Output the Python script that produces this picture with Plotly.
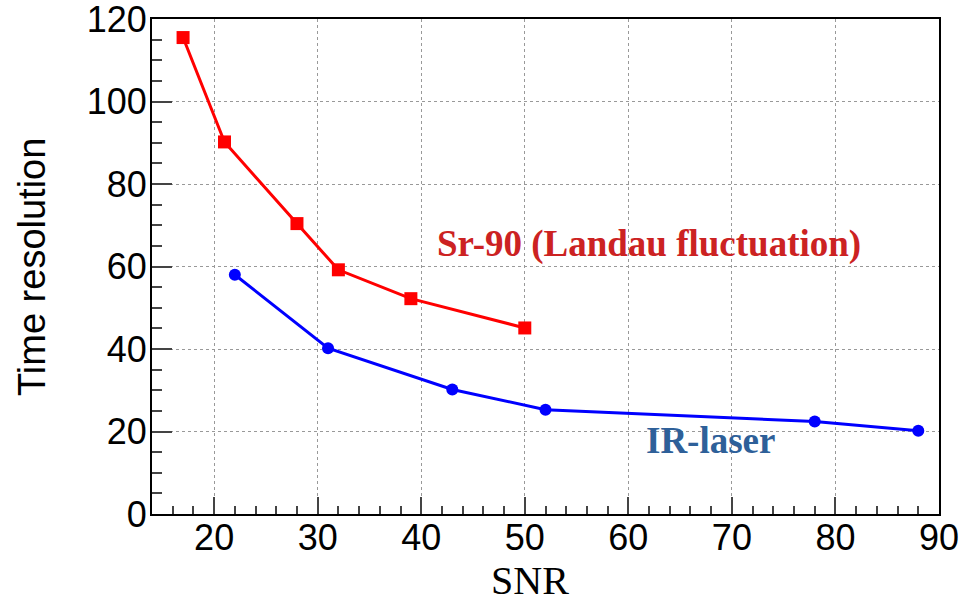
import plotly.graph_objects as go

# SNR scan: Sr-90 source vs. IR laser
sr_snr = [17, 21, 28, 32, 39, 50]
sr_res = [115.5, 90.2, 70.4, 59.2, 52.2, 45.1]

ir_snr = [22, 31, 43, 52, 78, 88]
ir_res = [58.0, 40.2, 30.2, 25.3, 22.4, 20.2]

x_ticks = [20, 30, 40, 50, 60, 70, 80, 90]
y_ticks = [0, 20, 40, 60, 80, 100, 120]

W, H = 975, 600
L, R, T, B = 152, 36, 19, 86

fig = go.Figure()
fig.add_trace(go.Scatter(
    x=sr_snr, y=sr_res, mode="lines+markers",
    line=dict(color="#ff0000", width=3),
    marker=dict(symbol="square", size=13, color="#ff0000"),
    showlegend=False,
))
fig.add_trace(go.Scatter(
    x=ir_snr, y=ir_res, mode="lines+markers",
    line=dict(color="#0000ff", width=3),
    marker=dict(symbol="circle", size=12, color="#0000ff"),
    showlegend=False,
))

axis_common = dict(
    showgrid=True, gridcolor="#999999", griddash="dot", gridwidth=1,
    showline=True, linecolor="black", linewidth=2, mirror=True,
    ticks="inside", tickcolor="#444444", tickwidth=2,
    tickfont=dict(family="Liberation Sans, Arial, sans-serif", size=36, color="black"),
    ticklabeloverflow="allow",
    automargin=False,
    zeroline=False,
)

fig.update_xaxes(
    range=[14, 90], tickvals=x_ticks, ticklen=17,
    minor=dict(dtick=2, ticks="inside", ticklen=8, tickcolor="#444444", tickwidth=2, showgrid=False),
    ticklabelstandoff=-9,
    **axis_common,
)
fig.update_yaxes(
    range=[0, 120], tickvals=y_ticks, ticklen=20,
    minor=dict(dtick=5, ticks="inside", ticklen=10, tickcolor="#444444", tickwidth=2, showgrid=False),
    ticklabelstandoff=-4,
    **axis_common,
)

pw = W - L - R
ph = H - T - B

def px_x(p):
    return (p - L) / pw

def px_y(p):
    return 1 - (p - T) / ph

fig.add_annotation(
    text="Time resolution", textangle=-90,
    xref="paper", yref="paper", x=px_x(32), y=px_y(267),
    xanchor="center", yanchor="middle", showarrow=False,
    font=dict(family="Liberation Sans, Arial, sans-serif", size=38, color="black"),
)
fig.add_annotation(
    text="SNR",
    xref="paper", yref="paper", x=px_x(530), y=px_y(580),
    xanchor="center", yanchor="middle", showarrow=False,
    font=dict(family="Liberation Serif, Times New Roman, serif", size=40, color="black"),
)
fig.add_annotation(
    text="<b>Sr-90 (Landau fluctuation)</b>",
    xref="paper", yref="paper", x=px_x(649), y=px_y(244),
    xanchor="center", yanchor="middle", showarrow=False,
    font=dict(family="Liberation Serif, Times New Roman, serif", size=37, color="#cc2222"),
)
fig.add_annotation(
    text="<b>IR-laser</b>",
    xref="paper", yref="paper", x=px_x(710), y=px_y(440),
    xanchor="center", yanchor="middle", showarrow=False,
    font=dict(family="Liberation Serif, Times New Roman, serif", size=37, color="#2e6099"),
)

fig.update_layout(
    width=W, height=H,
    margin=dict(l=L, r=R, t=T, b=B),
    paper_bgcolor="white", plot_bgcolor="white",
)

fig.write_html("out.html")
